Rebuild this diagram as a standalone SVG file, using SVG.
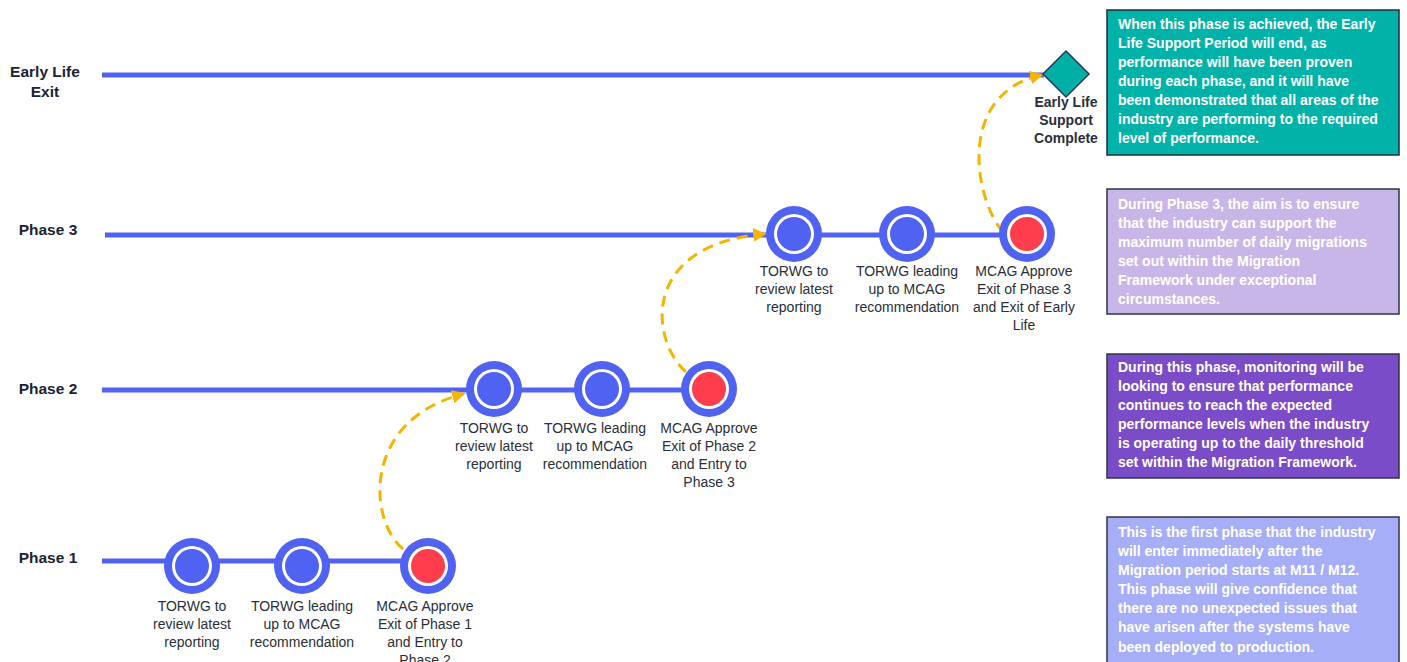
<svg xmlns="http://www.w3.org/2000/svg" width="1407" height="662" viewBox="0 0 1407 662">
<defs>
<style>
.lane{stroke:#5062F2;stroke-width:5;fill:none}
.hdr{font-family:"Liberation Sans",Arial,sans-serif;font-weight:bold;font-size:15.5px;fill:#1B2333;text-anchor:middle}
.lbl{font-family:"Liberation Sans",Arial,sans-serif;font-size:14px;fill:#2A2F3A;text-anchor:middle}
.lblb{font-family:"Liberation Sans",Arial,sans-serif;font-weight:bold;font-size:14px;fill:#2A2F3A;text-anchor:middle}
.box{font-family:"Liberation Sans",Arial,sans-serif;font-weight:bold;font-size:14px;fill:#FFFFFF}
.ring{fill:#5062F2}
.gap{fill:#FFFFFF}
.core{fill:#5062F2}
.stop{fill:#FF3D4D}
.dash{stroke:#F5B400;stroke-width:3;fill:none;stroke-dasharray:11 7}
</style>
<marker id="ah" viewBox="0 0 10 10" refX="8" refY="5" markerWidth="4.5" markerHeight="4.5" orient="auto" markerUnits="strokeWidth">
<path d="M0,0 L10,5 L0,10 z" fill="#F5B400"/>
</marker>
</defs>
<rect width="1407" height="662" fill="#FFFFFF"/>

<g id="lanes">
<line class="lane" x1="102" y1="75" x2="1044" y2="75"/>
<line class="lane" x1="105" y1="235" x2="1000" y2="235"/>
<line class="lane" x1="102" y1="390" x2="690" y2="390"/>
<line class="lane" x1="102" y1="561" x2="405" y2="561"/>
</g>

<g id="lane-labels">
<text class="hdr" x="45" y="77">Early Life</text>
<text class="hdr" x="45" y="97">Exit</text>
<text class="hdr" x="48" y="235">Phase 3</text>
<text class="hdr" x="48" y="394">Phase 2</text>
<text class="hdr" x="48" y="563">Phase 1</text>
</g>

<g id="connectors">
<path class="dash" d="M403,549 C368,520 362,420 463,394" marker-end="url(#ah)"/>
<path class="dash" d="M686,372 C650,340 640,245 764,234" marker-end="url(#ah)"/>
<path class="dash" d="M1003,232 C975,200 955,95 1041,75" marker-end="url(#ah)"/>
</g>

<g id="p1-review">
<circle class="ring" cx="192" cy="566" r="28"/><circle class="gap" cx="192" cy="566" r="20"/><circle class="core" cx="192" cy="566" r="17"/>
<text class="lbl" x="192" y="611">TORWG to</text><text class="lbl" x="192" y="629">review latest</text><text class="lbl" x="192" y="647">reporting</text>
</g>
<g id="p1-leading">
<circle class="ring" cx="302" cy="566" r="28"/><circle class="gap" cx="302" cy="566" r="20"/><circle class="core" cx="302" cy="566" r="17"/>
<text class="lbl" x="302" y="611">TORWG leading</text><text class="lbl" x="302" y="629">up to MCAG</text><text class="lbl" x="302" y="647">recommendation</text>
</g>
<g id="p1-approve">
<circle class="ring" cx="428" cy="566" r="28"/><circle class="gap" cx="428" cy="566" r="20"/><circle class="stop" cx="428" cy="566" r="17"/>
<text class="lbl" x="425" y="611">MCAG Approve</text><text class="lbl" x="425" y="629">Exit of Phase 1</text><text class="lbl" x="425" y="647">and Entry to</text><text class="lbl" x="425" y="665">Phase 2</text>
</g>

<g id="p2-review">
<circle class="ring" cx="494" cy="389" r="28"/><circle class="gap" cx="494" cy="389" r="20"/><circle class="core" cx="494" cy="389" r="17"/>
<text class="lbl" x="494" y="433">TORWG to</text><text class="lbl" x="494" y="451">review latest</text><text class="lbl" x="494" y="469">reporting</text>
</g>
<g id="p2-leading">
<circle class="ring" cx="602" cy="389" r="28"/><circle class="gap" cx="602" cy="389" r="20"/><circle class="core" cx="602" cy="389" r="17"/>
<text class="lbl" x="595" y="433">TORWG leading</text><text class="lbl" x="595" y="451">up to MCAG</text><text class="lbl" x="595" y="469">recommendation</text>
</g>
<g id="p2-approve">
<circle class="ring" cx="709" cy="389" r="28"/><circle class="gap" cx="709" cy="389" r="20"/><circle class="stop" cx="709" cy="389" r="17"/>
<text class="lbl" x="709" y="433">MCAG Approve</text><text class="lbl" x="709" y="451">Exit of Phase 2</text><text class="lbl" x="709" y="469">and Entry to</text><text class="lbl" x="709" y="487">Phase 3</text>
</g>

<g id="p3-review">
<circle class="ring" cx="794" cy="234" r="28"/><circle class="gap" cx="794" cy="234" r="20"/><circle class="core" cx="794" cy="234" r="17"/>
<text class="lbl" x="794" y="276">TORWG to</text><text class="lbl" x="794" y="294">review latest</text><text class="lbl" x="794" y="312">reporting</text>
</g>
<g id="p3-leading">
<circle class="ring" cx="907" cy="234" r="28"/><circle class="gap" cx="907" cy="234" r="20"/><circle class="core" cx="907" cy="234" r="17"/>
<text class="lbl" x="907" y="276">TORWG leading</text><text class="lbl" x="907" y="294">up to MCAG</text><text class="lbl" x="907" y="312">recommendation</text>
</g>
<g id="p3-approve">
<circle class="ring" cx="1027" cy="234" r="28"/><circle class="gap" cx="1027" cy="234" r="20"/><circle class="stop" cx="1027" cy="234" r="17"/>
<text class="lbl" x="1024" y="276">MCAG Approve</text><text class="lbl" x="1024" y="294">Exit of Phase 3</text><text class="lbl" x="1024" y="312">and Exit of Early</text><text class="lbl" x="1024" y="330">Life</text>
</g>

<g id="els-complete">
<path d="M1066,51 L1089,74 L1066,97 L1043,74 z" fill="#00B0A4" stroke="#2B3566" stroke-width="1.5"/>
<text class="lblb" x="1066" y="107">Early Life</text><text class="lblb" x="1066" y="125">Support</text><text class="lblb" x="1066" y="143">Complete</text>
</g>

<g id="note-exit">
<rect x="1107" y="10" width="292" height="145" fill="#00B2A8" stroke="#1E2E3E" stroke-width="1.5"/>
<text class="box" x="1118"><tspan x="1118" y="29">When this phase is achieved, the Early</tspan><tspan x="1118" y="48">Life Support Period will end, as</tspan><tspan x="1118" y="67">performance will have been proven</tspan><tspan x="1118" y="86">during each phase, and it will have</tspan><tspan x="1118" y="105">been demonstrated that all areas of the</tspan><tspan x="1118" y="124">industry are performing to the required</tspan><tspan x="1118" y="143">level of performance.</tspan></text>
</g>
<g id="note-p3">
<rect x="1107" y="189" width="292" height="125" fill="#C9B6E8" stroke="#2E3448" stroke-width="1.5"/>
<text class="box" x="1118"><tspan x="1118" y="209">During Phase 3, the aim is to ensure</tspan><tspan x="1118" y="228">that the industry can support the</tspan><tspan x="1118" y="247">maximum number of daily migrations</tspan><tspan x="1118" y="266">set out within the Migration</tspan><tspan x="1118" y="285">Framework under exceptional</tspan><tspan x="1118" y="304">circumstances.</tspan></text>
</g>
<g id="note-p2">
<rect x="1107" y="354" width="292" height="124" fill="#7B4CC8" stroke="#2E3448" stroke-width="1.5"/>
<text class="box" x="1118"><tspan x="1118" y="372">During this phase, monitoring will be</tspan><tspan x="1118" y="391">looking to ensure that performance</tspan><tspan x="1118" y="410">continues to reach the expected</tspan><tspan x="1118" y="429">performance levels when the industry</tspan><tspan x="1118" y="448">is operating up to the daily threshold</tspan><tspan x="1118" y="467">set within the Migration Framework.</tspan></text>
</g>
<g id="note-p1">
<rect x="1107" y="517" width="292" height="160" fill="#A7AEF8" stroke="#2E3448" stroke-width="1.5"/>
<text class="box" x="1118"><tspan x="1118" y="537">This is the first phase that the industry</tspan><tspan x="1118" y="556">will enter immediately after the</tspan><tspan x="1118" y="575">Migration period starts at M11 / M12.</tspan><tspan x="1118" y="594">This phase will give confidence that</tspan><tspan x="1118" y="613">there are no unexpected issues that</tspan><tspan x="1118" y="632">have arisen after the systems have</tspan><tspan x="1118" y="652">been deployed to production.</tspan></text>
</g>
</svg>
